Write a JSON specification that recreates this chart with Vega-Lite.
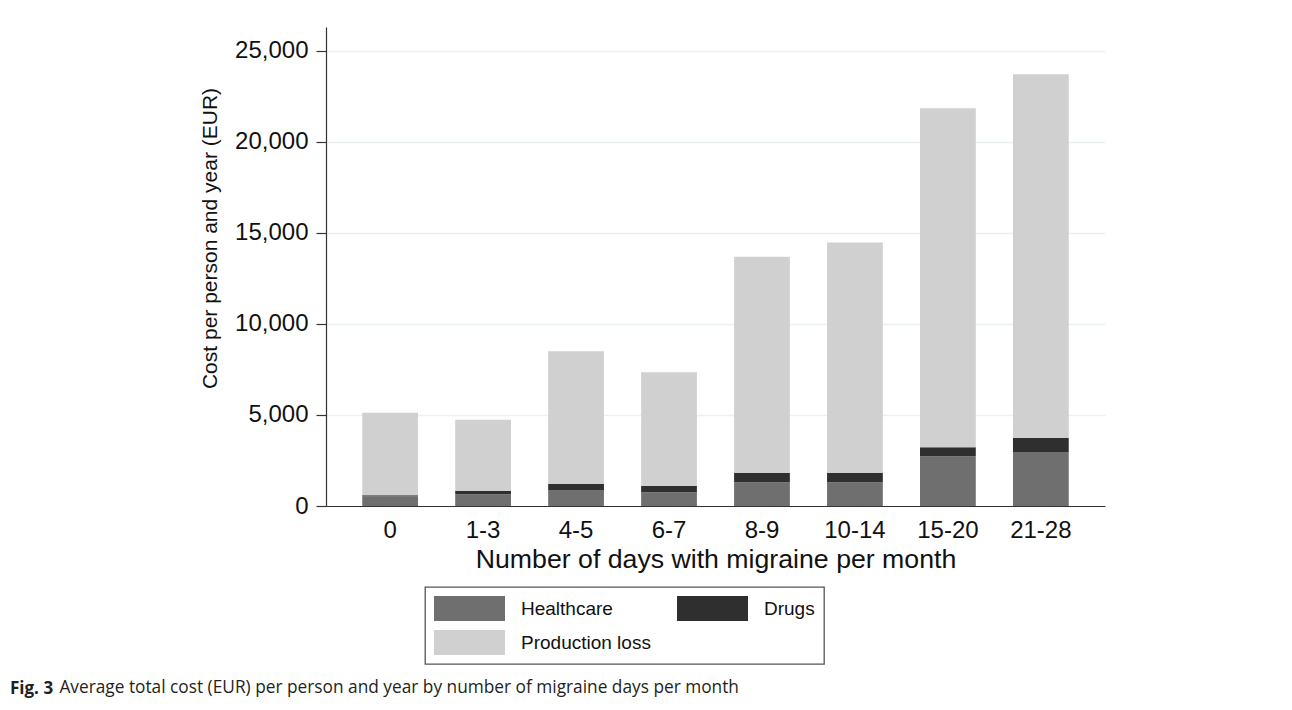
{
  "$schema": "https://vega.github.io/schema/vega-lite/v6.json",
  "width": 779,
  "height": 479,
  "autosize": "none",
  "padding": {"left": 326, "top": 27, "right": 187, "bottom": 204},
  "background": "white",
  "data": {
    "values": [
      {"days": "0", "type": "Healthcare", "ord": 1, "cost": 530},
      {"days": "0", "type": "Drugs", "ord": 2, "cost": 60},
      {"days": "0", "type": "Production loss", "ord": 3, "cost": 4530},
      {"days": "1-3", "type": "Healthcare", "ord": 1, "cost": 640},
      {"days": "1-3", "type": "Drugs", "ord": 2, "cost": 200},
      {"days": "1-3", "type": "Production loss", "ord": 3, "cost": 3900},
      {"days": "4-5", "type": "Healthcare", "ord": 1, "cost": 850},
      {"days": "4-5", "type": "Drugs", "ord": 2, "cost": 375},
      {"days": "4-5", "type": "Production loss", "ord": 3, "cost": 7275},
      {"days": "6-7", "type": "Healthcare", "ord": 1, "cost": 750},
      {"days": "6-7", "type": "Drugs", "ord": 2, "cost": 350},
      {"days": "6-7", "type": "Production loss", "ord": 3, "cost": 6246},
      {"days": "8-9", "type": "Healthcare", "ord": 1, "cost": 1300},
      {"days": "8-9", "type": "Drugs", "ord": 2, "cost": 530},
      {"days": "8-9", "type": "Production loss", "ord": 3, "cost": 11850},
      {"days": "10-14", "type": "Healthcare", "ord": 1, "cost": 1300},
      {"days": "10-14", "type": "Drugs", "ord": 2, "cost": 530},
      {"days": "10-14", "type": "Production loss", "ord": 3, "cost": 12640},
      {"days": "15-20", "type": "Healthcare", "ord": 1, "cost": 2730},
      {"days": "15-20", "type": "Drugs", "ord": 2, "cost": 490},
      {"days": "15-20", "type": "Production loss", "ord": 3, "cost": 18615},
      {"days": "21-28", "type": "Healthcare", "ord": 1, "cost": 2965},
      {"days": "21-28", "type": "Drugs", "ord": 2, "cost": 770},
      {"days": "21-28", "type": "Production loss", "ord": 3, "cost": 19965}
    ]
  },
  "title": {
    "text": "Fig. 3",
    "subtitle": "\u200b\u00a0\u00a0\u00a0\u00a0\u00a0\u00a0\u00a0\u00a0\u00a0\u00a0\u00a0Average total cost (EUR) per person and year by number of migraine days per month",
    "orient": "bottom",
    "anchor": "start",
    "frame": "group",
    "dx": -316,
    "offset": 16,
    "font": "Open Sans",
    "fontSize": 17,
    "fontWeight": "bold",
    "color": "#231f20",
    "subtitleFont": "Open Sans",
    "subtitleFontSize": 17.3,
    "subtitleFontWeight": "normal",
    "subtitleColor": "#231f20",
    "subtitlePadding": -19
  },
  "mark": {"type": "bar"},
  "encoding": {
    "x": {
      "field": "days",
      "type": "nominal",
      "sort": ["0", "1-3", "4-5", "6-7", "8-9", "10-14", "15-20", "21-28"],
      "scale": {"paddingInner": 0.4, "paddingOuter": 0.39},
      "axis": {
        "title": "Number of days with migraine per month",
        "labelAngle": 0,
        "ticks": false,
        "labelPadding": 12,
        "labelFontSize": 24,
        "titleFontSize": 26.7,
        "titlePadding": 4
      }
    },
    "y": {
      "field": "cost",
      "type": "quantitative",
      "stack": "zero",
      "scale": {"domain": [0, 26300], "nice": false},
      "axis": {
        "title": "Cost per person and year (EUR)",
        "values": [0, 5000, 10000, 15000, 20000, 25000],
        "format": ",d",
        "tickSize": 10,
        "labelPadding": 8,
        "labelFontSize": 24,
        "titleFontSize": 21,
        "titleX": -116,
        "titleY": 211,
        "titleAngle": -90,
        "titleAlign": "center",
        "titleBaseline": "middle",
        "grid": true,
        "gridColor": "#e9f1f3",
        "gridWidth": 1.6
      }
    },
    "color": {
      "field": "type",
      "type": "nominal",
      "scale": {
        "domain": ["Healthcare", "Drugs", "Production loss"],
        "range": ["#6f6f6f", "#2f2f2f", "#d0d0d0"]
      },
      "legend": {
        "title": null,
        "orient": "none",
        "legendX": 99,
        "legendY": 560,
        "direction": "horizontal",
        "columns": 2,
        "symbolType": "M-1,-1H4.68V1H-1Z",
        "symbolSize": 625,
        "symbolStrokeWidth": 0,
        "symbolOpacity": 1,
        "labelOffset": 62,
        "labelFontSize": 19,
        "labelColor": "#111",
        "rowPadding": 9,
        "columnPadding": 26,
        "padding": 9,
        "strokeColor": "#555",
        "fillColor": "white",
        "encode": {"legend": {"update": {"strokeWidth": {"value": 1.3}}}}
      }
    },
    "order": {"field": "ord", "type": "quantitative"}
  },
  "config": {
    "font": "Liberation Sans",
    "view": {"stroke": null},
    "axis": {
      "domainColor": "#333",
      "domainWidth": 1.2,
      "tickColor": "#333",
      "tickWidth": 1.2,
      "labelColor": "#111",
      "titleColor": "#111",
      "titleFontWeight": "normal",
      "labelFont": "Liberation Sans",
      "titleFont": "Liberation Sans"
    },
    "axisX": {"grid": false}
  }
}
